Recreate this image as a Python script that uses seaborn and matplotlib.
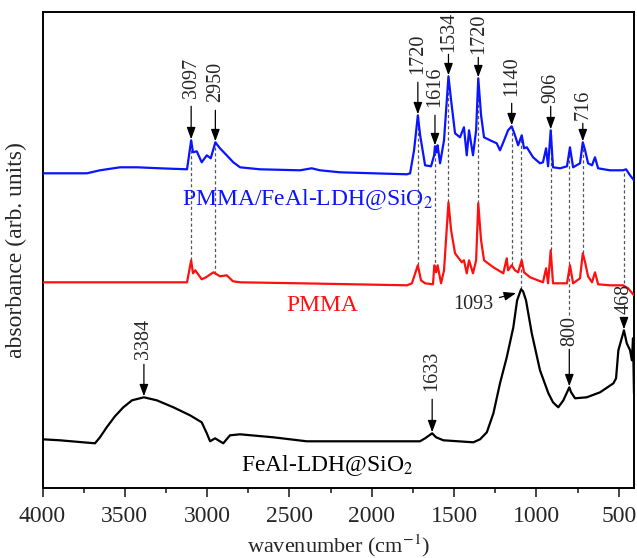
import numpy as np
import pandas as pd
import matplotlib
matplotlib.use("Agg")
import matplotlib.pyplot as plt
from matplotlib.ticker import MultipleLocator
import seaborn as sns

# ---------------- data ----------------
wn_blue = [4000, 3730, 3651, 3529, 3426, 3286, 3122, 3097, 3086, 3063,
           3033, 3002, 2978, 2950, 2922, 2881, 2841, 2800, 2679, 2436,
           2365, 2314, 2193, 1786, 1767, 1743, 1720, 1706, 1676, 1640,
           1621, 1616, 1606, 1600, 1585, 1561, 1534, 1518, 1494, 1464,
           1440, 1423, 1409, 1385, 1366, 1353, 1336, 1318, 1281, 1241,
           1221, 1196, 1172, 1150, 1130, 1111, 1089, 1075, 1058, 1020,
           978, 960, 941, 929, 913, 899, 856, 814, 796, 777,
           735, 718, 704, 686, 662, 644, 625, 553, 474, 455,
           431, 407]
abs_blue = [3.15, 3.15, 3.18, 3.21, 3.21, 3.20, 3.19, 3.48, 3.36, 3.37,
            3.26, 3.33, 3.30, 3.46, 3.40, 3.33, 3.26, 3.21, 3.19, 3.18,
            3.20, 3.18, 3.16, 3.14, 3.15, 3.38, 3.73, 3.53, 3.23, 3.22,
            3.33, 3.42, 3.36, 3.43, 3.25, 3.48, 4.12, 3.88, 3.55, 3.51,
            3.61, 3.33, 3.58, 3.33, 3.58, 4.10, 3.73, 3.51, 3.48, 3.45,
            3.38, 3.48, 3.58, 3.62, 3.53, 3.43, 3.53, 3.40, 3.41, 3.31,
            3.25, 3.26, 3.40, 3.22, 3.58, 3.21, 3.20, 3.22, 3.41, 3.21,
            3.25, 3.46, 3.38, 3.25, 3.23, 3.31, 3.20, 3.18, 3.18, 3.19,
            3.13, 3.08]

wn_red = [4000, 3122, 3097, 3086, 3072, 3033, 3007, 2962, 2922, 2881,
          2843, 2800, 2436, 1786, 1756, 1720, 1701, 1676, 1628, 1620,
          1609, 1600, 1579, 1561, 1534, 1518, 1494, 1453, 1440, 1423,
          1409, 1385, 1366, 1353, 1336, 1318, 1261, 1201, 1180, 1172,
          1150, 1130, 1111, 1089, 1075, 1038, 960, 941, 929, 913,
          899, 856, 814, 796, 777, 735, 718, 704, 686, 662,
          644, 625, 553, 474, 443, 407]
abs_red = [2.06, 2.06, 2.28, 2.15, 2.18, 2.09, 2.11, 2.16, 2.12, 2.13,
           2.07, 2.06, 2.05, 2.03, 2.05, 2.23, 2.08, 2.05, 2.04, 2.23,
           2.16, 2.23, 2.05, 2.18, 2.86, 2.58, 2.35, 2.26, 2.28, 2.15,
           2.28, 2.15, 2.28, 2.85, 2.48, 2.28, 2.21, 2.15, 2.30, 2.18,
           2.23, 2.18, 2.16, 2.28, 2.16, 2.11, 2.06, 2.20, 2.05, 2.38,
           2.05, 2.05, 2.05, 2.23, 2.05, 2.10, 2.35, 2.26, 2.12, 2.06,
           2.16, 2.04, 2.03, 2.03, 2.00, 1.93]

wn_black = [4000, 3894, 3754, 3681, 3651, 3610, 3560, 3509, 3456, 3384,
            3306, 3205, 3104, 3033, 3002, 2982, 2952, 2922, 2902, 2861,
            2800, 2598, 2395, 2193, 1707, 1676, 1633, 1609, 1565, 1383,
            1342, 1301, 1261, 1221, 1180, 1140, 1117, 1093, 1081, 1063,
            1028, 978, 927, 899, 867, 836, 800, 789, 765, 694,
            613, 532, 516, 502, 468, 451, 431, 420, 413, 407]
abs_black = [0.49, 0.48, 0.46, 0.45, 0.51, 0.61, 0.72, 0.81, 0.88, 0.91,
             0.88, 0.81, 0.73, 0.66, 0.55, 0.47, 0.50, 0.47, 0.45, 0.53,
             0.54, 0.51, 0.47, 0.47, 0.47, 0.50, 0.55, 0.51, 0.48, 0.46,
             0.49, 0.56, 0.75, 1.05, 1.31, 1.61, 1.88, 1.99, 1.97, 1.88,
             1.55, 1.18, 0.95, 0.86, 0.81, 0.88, 1.01, 0.96, 0.90, 0.91,
             0.96, 1.05, 1.10, 1.38, 1.58, 1.45, 1.38, 1.28, 1.50, 0.95]

series_names = ["PMMA/FeAl-LDH@SiO$_2$", "PMMA", "FeAl-LDH@SiO$_2$"]
series_colors = ["#0a14ff", "#ff1010", "#000000"]

# peak labels: text, wavenumber, series index
peak_labels = ["3097", "2950", "1720", "1616", "1534", "1720", "1140", "906", "716",
               "3384", "1633", "800", "468"]
peak_wn = [3097, 2950, 1720, 1616, 1534, 1353, 1150, 913, 718,
           3384, 1633, 800, 468]
peak_series = [0, 0, 0, 0, 0, 0, 0, 0, 0, 2, 2, 2, 2]

# dashed guides: wavenumber, series they descend to
guide_wn = [3097, 2950, 1720, 1616, 1534, 1353, 1150, 1093, 913, 800, 718, 468]
guide_to = [1, 1, 1, 1, 1, 1, 1, 2, 1, 2, 1, 2]

# ---------------- figure ----------------
sns.set_style("ticks")
plt.rcParams["font.family"] = ["Liberation Serif", "DejaVu Serif"]
plt.rcParams["mathtext.fontset"] = "stix"

W, H = 637, 558
fig = plt.figure(figsize=(W / 100, H / 100), dpi=100)
x0, x1, y0, y1 = 42.5, 634, 11.7, 488.3
ax = fig.add_axes([x0 / W, (H - y1) / H, (x1 - x0) / W, (y1 - y0) / H])

frames = []
for name, wn, ab in zip(series_names, [wn_blue, wn_red, wn_black],
                        [abs_blue, abs_red, abs_black]):
    frames.append(pd.DataFrame({"wavenumber": wn, "absorbance": ab, "series": name}))
df = pd.concat(frames, ignore_index=True)

for name, col in zip(series_names, series_colors):
    sns.lineplot(data=df[df["series"] == name], x="wavenumber", y="absorbance",
                 color=col, lw=1.6, estimator=None, ax=ax, zorder=3)

ax.set_xlim(4000, 407)
ax.set_ylim(0, 4.766)


def yval(idx, w):
    d = df[df["series"] == series_names[idx]].sort_values("wavenumber")
    return float(np.interp(w, d["wavenumber"], d["absorbance"]))


PX = 0.01  # data units per pixel (vertical)
ARROW = "-|>,head_length=0.6,head_width=0.22"

# dashed guide lines
for w, to in zip(guide_wn, guide_to):
    top = yval(0, w)
    bot = yval(to, w)
    if w == 800:
        bot += 72 * PX
    if w == 468:
        bot += 47 * PX
    ax.vlines(w, bot, top, colors="#555555", linestyles=(0, (2.5, 2.0)),
              lw=0.9, zorder=2)

# peak annotations
arrow_len = {0: 33, 1: 31, 2: 32, 3: 30, 4: 21, 5: 20, 6: 22, 7: 23, 8: 18,
             9: 32, 10: 33, 11: 37, 12: 12}
text_gap = {0: 8, 1: 8, 2: 8, 3: 8, 4: 2, 5: 3, 6: 7, 7: 3, 8: 3,
            9: 5, 10: 8, 11: 3, 12: 3}
for i, (lab, w, s) in enumerate(zip(peak_labels, peak_wn, peak_series)):
    yp = yval(s, w) + 1 * PX
    L = arrow_len[i]
    ax.annotate("", xy=(w, yp), xytext=(0, L * 0.72), textcoords="offset points",
                arrowprops=dict(arrowstyle=ARROW, color="black", lw=0.9,
                                shrinkA=0, shrinkB=0, mutation_scale=12),
                zorder=5)
    ax.annotate(lab, xy=(w, yp), xytext=(0, (L + text_gap[i]) * 0.72),
                textcoords="offset points", rotation=90, ha="center",
                va="bottom", fontsize=14.5, zorder=5)

# 1093 label with slanted arrow
ax.annotate("1093", xy=(1099, yval(2, 1099)), xytext=(-33.6, -8.9),
            textcoords="offset points", ha="center", va="center", fontsize=14.5,
            arrowprops=dict(arrowstyle=ARROW, color="black", lw=0.9,
                            shrinkA=2, shrinkB=3, mutation_scale=12))

# series labels
ax.text(2390, 2.833, series_names[0], color=series_colors[0], fontsize=17,
        ha="center", va="baseline")
ax.text(2299, 1.773, series_names[1], color=series_colors[1], fontsize=17,
        ha="center", va="baseline")
ax.text(2269, 0.176, series_names[2], color=series_colors[2], fontsize=17,
        ha="center", va="baseline")

# axes styling
ax.xaxis.set_major_locator(MultipleLocator(500))
ax.xaxis.set_minor_locator(MultipleLocator(250))
ax.set_xticks(np.arange(4000, 499, -500))
ax.set_yticks([])
ax.tick_params(axis="x", which="major", direction="out", length=6.5, width=1.2,
               labelsize=17, pad=6, bottom=True, top=False)
ax.tick_params(axis="x", which="minor", direction="out", length=3.5, width=1.2,
               bottom=True, top=False)
for sp in ax.spines.values():
    sp.set_visible(True)
    sp.set_linewidth(1.4)
    sp.set_color("black")

ax.set_xlabel("wavenumber (cm$^{-1}$)", fontsize=16, labelpad=4)
ax.set_ylabel("absorbance (arb. units)", fontsize=17)
ax.yaxis.set_label_coords(-0.026, 0.5)

fig.savefig("out.png", dpi=100)
